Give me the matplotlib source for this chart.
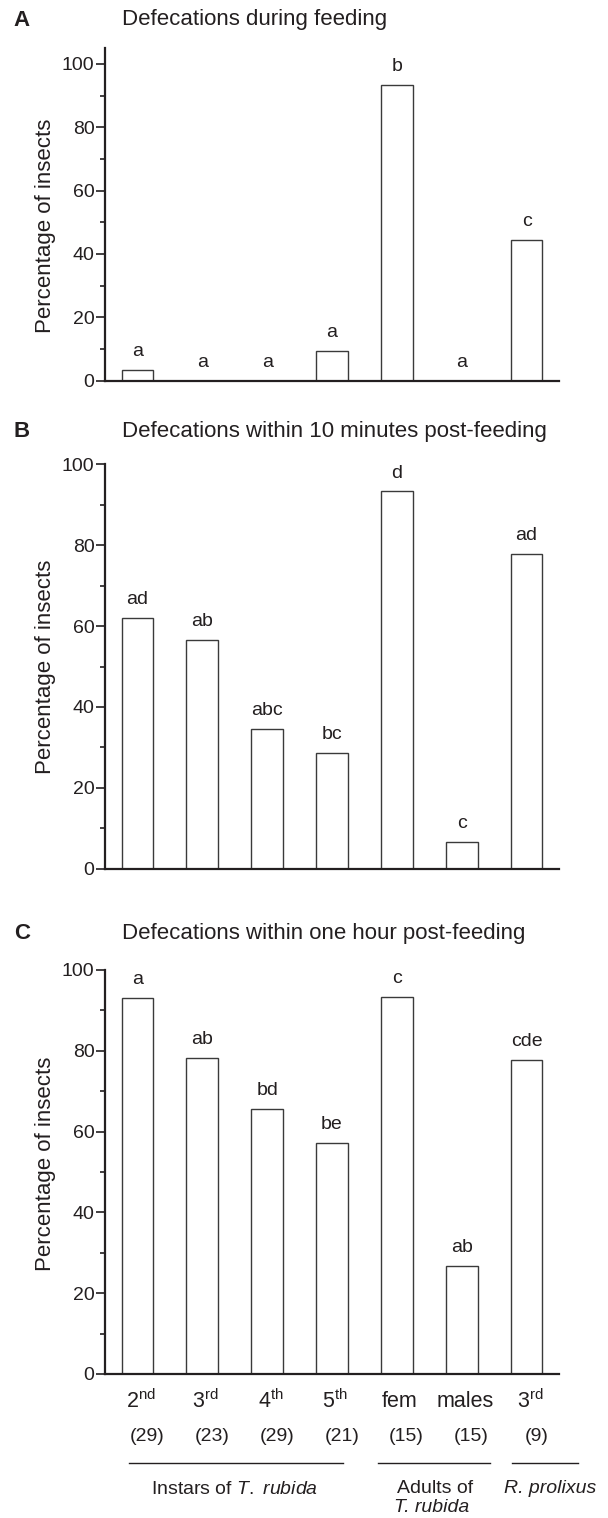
import matplotlib
matplotlib.use("Agg")
import matplotlib.pyplot as plt
from matplotlib.lines import Line2D
from matplotlib.ticker import MultipleLocator
import numpy as np

plt.rcParams['font.family'] = ['Liberation Sans', 'DejaVu Sans']
plt.rcParams['mathtext.fontset'] = 'custom'
plt.rcParams['mathtext.rm'] = 'Liberation Sans'
plt.rcParams['mathtext.it'] = 'Liberation Sans:italic'

# data
groups = [r"2$^{\rm nd}$", r"3$^{\rm rd}$", r"4$^{\rm th}$", r"5$^{\rm th}$",
          "fem", "males", r"3$^{\rm rd}$"]
n_insects = ["(29)", "(23)", "(29)", "(21)", "(15)", "(15)", "(9)"]

during = [3.4, 0, 0, 9.5, 93.3, 0, 44.4]
during_sig = ["a", "a", "a", "a", "b", "a", "c"]

within10 = [62.1, 56.5, 34.5, 28.6, 93.3, 6.7, 77.8]
within10_sig = ["ad", "ab", "abc", "bc", "d", "c", "ad"]

within60 = [93.1, 78.3, 65.5, 57.1, 93.3, 26.7, 77.8]
within60_sig = ["a", "ab", "bd", "be", "c", "ab", "cde"]

panels = [
    ("A", "Defecations during feeding", during, during_sig, 105),
    ("B", "Defecations within 10 minutes post-feeding", within10, within10_sig, 100),
    ("C", "Defecations within one hour post-feeding", within60, within60_sig, 100),
]

W_PX, H_PX = 608, 1518
ink = "#231f20"

def fx(px):
    return px / W_PX

def fy(py):
    return 1 - py / H_PX

fig = plt.figure(figsize=(W_PX / 100, H_PX / 100), dpi=100)

# pixel layout of each panel: (zero line, top of axis, title y, ylabel centre)
boxes = [(380.7, 48, 20, 0.465), (868.7, 464.3, 431.7, 0.5),
         (1374, 970, 933.3, 0.52)]
left, right = 105, 559

x = np.arange(1, len(groups) + 1)

axes = []
for (letter, title, vals, sig, ytop), (y0, y1, ty, ly) in zip(panels, boxes):
    ax = fig.add_axes([fx(left), fy(y0), fx(right - left), (y0 - y1) / H_PX])
    ax.bar(x, vals, width=0.49, color="white", edgecolor="#3a3a3a",
           linewidth=1.0, zorder=2)
    for xi, v, s in zip(x, vals, sig):
        ax.annotate(s, (xi, v), xytext=(0, 10), textcoords="offset points",
                    ha="center", va="baseline", fontsize=14, color=ink)
    ax.set_xlim(0.5, 7.5)
    ax.set_ylim(0, ytop)
    ax.yaxis.set_major_locator(MultipleLocator(20))
    ax.yaxis.set_minor_locator(MultipleLocator(10))
    ax.set_xticks([])
    for side in ("top", "right"):
        ax.spines[side].set_visible(False)
    for side in ("left", "bottom"):
        ax.spines[side].set_linewidth(1.6)
        ax.spines[side].set_color(ink)
    ax.tick_params(axis="y", which="major", length=6.5, width=1.2,
                   labelsize=14, colors=ink, pad=1)
    ax.tick_params(axis="y", which="minor", length=3.5, width=1.2, colors=ink)
    ax.set_ylabel("Percentage of insects", fontsize=16, color=ink)
    ax.yaxis.set_label_coords(-0.108, ly)
    fig.text(fx(22), fy(ty), letter, fontsize=16, fontweight="bold",
             ha="center", va="center", color=ink)
    fig.text(fx(122), fy(ty), title, fontsize=16, ha="left", va="center",
             color=ink)
    axes.append(ax)

# category labels under the last panel
axc = axes[-1]
trans = axc.get_xaxis_transform()
for xi, g, n in zip(x, groups, n_insects):
    axc.text(xi + 0.05, (1374 - 1401.7) / 404, g, transform=trans,
             ha="center", va="center", fontsize=15.5, color=ink)
    axc.text(xi + 0.15, (1374 - 1436.7) / 404, n, transform=trans,
             ha="center", va="center", fontsize=14, color=ink)

# group brackets
for x0, x1 in [(128.7, 342.6), (378.3, 489.5), (511.6, 578.3)]:
    fig.add_artist(Line2D([fx(x0), fx(x1)], [fy(1463.3), fy(1463.3)],
                          color=ink, linewidth=1.0))

fig.text(fx(235), fy(1489.3), r"Instars of $\it{T.}$ $\it{rubida}$",
         ha="center", va="center", fontsize=14, color=ink)
fig.text(fx(435), fy(1488.3), "Adults of", ha="center", va="center",
         fontsize=14, color=ink)
fig.text(fx(432), fy(1508), "T. rubida", style="italic", ha="center",
         va="center", fontsize=14, color=ink)
fig.text(fx(550), fy(1488.3), "R. prolixus", style="italic", ha="center",
         va="center", fontsize=14, color=ink)

fig.savefig("out.png", dpi=100)
